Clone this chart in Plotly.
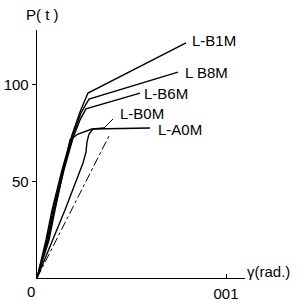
import plotly.graph_objects as go

# Data (gamma in rad, P in t)
g_B1M = [0, 0.000476, 0.000794, 0.001323, 0.001852, 0.002275, 0.002698, 0.007884]
p_B1M = [0, 19.7, 35.2, 56.0, 74.1, 86.0, 95.8, 121.8]

g_B8M = [0, 0.000529, 0.000847, 0.001376, 0.001905, 0.002328, 0.002751, 0.007460]
p_B8M = [0, 19.7, 35.2, 56.0, 74.1, 85.5, 92.7, 106.7]

g_B6M = [0, 0.000582, 0.000899, 0.001429, 0.001905, 0.002275, 0.002593, 0.005450]
p_B6M = [0, 19.7, 35.2, 56.0, 72.5, 81.9, 87.6, 95.8]

g_A0M = [0, 0.000635, 0.000952, 0.001429, 0.001746, 0.002169, 0.002910, 0.005979]
p_A0M = [0, 19.7, 35.2, 56.0, 71.5, 74.6, 77.2, 77.7]

g_B0M = [0, 0.001481, 0.002434, 0.002593, 0.002646, 0.002751, 0.002963, 0.003545]
p_B0M = [0, 35.2, 59.6, 65.3, 70.5, 74.6, 77.2, 77.7]

g_ref = [0, 0.003862]
p_ref = [0, 74.6]

g_lead = [0.003545, 0.004021]
p_lead = [77.7, 82.4]

x_tickvals = [0.01]
x_ticktext = ["001"]
y_tickvals = [50, 100]
y_ticktext = ["50", "100"]

FONT = "Liberation Sans, Arial, sans-serif"
FS = 15

W, H = 298, 301
L, R, T, B = 37, 53, 30, 23
PW, PH = W - L - R, H - T - B


def px(x, y):
    return (x - L) / PW, (H - B - y) / PH


fig = go.Figure()
line_main = dict(color="black", width=1.4)
for gx, py in [(g_B1M, p_B1M), (g_B8M, p_B8M), (g_B6M, p_B6M), (g_A0M, p_A0M), (g_B0M, p_B0M)]:
    fig.add_trace(go.Scatter(x=gx, y=py, mode="lines", line=line_main, showlegend=False,
                             hoverinfo="skip", cliponaxis=False))
fig.add_trace(go.Scatter(x=g_ref, y=p_ref, mode="lines", line=dict(color="black", width=1, dash="dashdot"),
                         showlegend=False, hoverinfo="skip"))
fig.add_trace(go.Scatter(x=g_lead, y=p_lead, mode="lines", line=dict(color="black", width=1),
                         showlegend=False, hoverinfo="skip"))

labels = [
    ("L-B1M", 190, 41),
    ("L B8M", 183, 73),
    ("L-B6M", 142, 93),
    ("L-B0M", 118, 113),
    ("L-A0M", 156, 129),
]
for txt, x, y in labels:
    xp, yp = px(x, y)
    fig.add_annotation(x=xp, y=yp, xref="paper", yref="paper", text=txt, showarrow=False,
                       xanchor="left", yanchor="middle", font=dict(family=FONT, size=FS, color="black"))

# axis titles and origin label
xp, yp = px(42, 14)
fig.add_annotation(x=xp, y=yp, xref="paper", yref="paper", text="P( t )", showarrow=False,
                   xanchor="center", yanchor="middle", font=dict(family=FONT, size=FS, color="black"))
xp, yp = px(245, 271)
fig.add_annotation(x=xp, y=yp, xref="paper", yref="paper", text="γ(rad.)", showarrow=False,
                   xanchor="left", yanchor="middle", font=dict(family=FONT, size=FS, color="black"))
xp, yp = px(31, 291)
fig.add_annotation(x=xp, y=yp, xref="paper", yref="paper", text="0", showarrow=False,
                   xanchor="center", yanchor="middle", font=dict(family=FONT, size=FS, color="black"))

fig.update_layout(
    width=W, height=H,
    margin=dict(l=L, r=R, t=T, b=B, pad=0, autoexpand=False),
    paper_bgcolor="white", plot_bgcolor="white",
    font=dict(family=FONT, size=FS, color="black"),
    xaxis=dict(range=[0, PW / 18900], showgrid=False, zeroline=False, showline=True,
               linecolor="black", linewidth=1.3, ticks="inside", ticklen=4, tickcolor="black",
               tickvals=x_tickvals, ticktext=x_ticktext, fixedrange=True, automargin=False,
               ticklabelstandoff=2),
    yaxis=dict(range=[0, PH * 0.5181], showgrid=False, zeroline=False, showline=True,
               linecolor="black", linewidth=1.3, ticks="outside", ticklen=4, tickcolor="black",
               tickvals=y_tickvals, ticktext=y_ticktext, fixedrange=True, automargin=False,
               ticklabelstandoff=0),
)

fig.write_html(
    "out.html",
    config={"displayModeBar": False, "staticPlot": True},
    post_script="document.body.style.margin='0';document.body.style.padding='0';"
                "document.body.style.overflow='hidden';",
)
